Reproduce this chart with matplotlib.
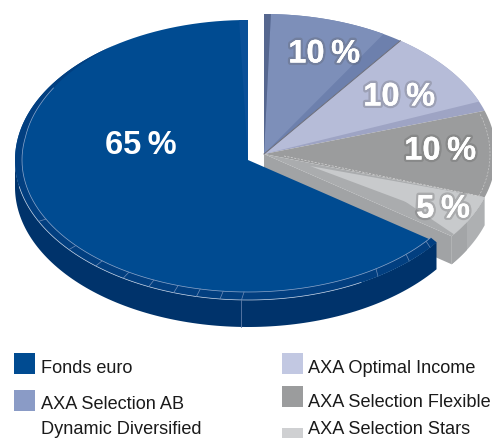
import numpy as np
import matplotlib
matplotlib.use("Agg")
import matplotlib.pyplot as plt
import matplotlib.patheffects as pe

# ── Data ──────────────────────────────────────────────────────────────────────
names = ["Fonds euro", "AXA Selection AB\nDynamic Diversified", "AXA Optimal Income",
         "AXA Selection Flexible", "AXA Selection Stars"]
values = [65, 10, 10, 10, 5]
labels = ["65\u2009%", "10\u2009%", "10\u2009%", "10\u2009%", "5\u2009%"]
colors = ["#004b91", "#7d8fb9", "#b6bcd8", "#9b9c9d", "#c8cacc"]
legend_colors = ["#004b91", "#8a9bc6", "#c2c8e2", "#9b9c9d", "#cfd0d2"]

plt.rcParams["font.family"] = ["Liberation Sans", "DejaVu Sans"]

fig = plt.figure(figsize=(4.92, 4.38), dpi=100)
ax = fig.add_axes([0, 0, 1, 1])
ax.set_xlim(0, 492)
ax.set_ylim(438, 0)
ax.axis("off")

# ── Geometry helpers ──────────────────────────────────────────────────────────
def rim(c, a, b, t0, t1, dy=0):
    t = np.radians(np.linspace(t0, t1, 120))
    return c[0] + a * np.cos(t), c[1] - b * np.sin(t) + dy

def sector(c, a, b, t0, t1, color, z, apex=None, dy=0):
    x, y = rim(c, a, b, t0, t1, dy)
    apex = c if apex is None else apex
    ax.fill(np.r_[apex[0], x], np.r_[apex[1] + dy, y], color=color, lw=0, zorder=z)

def wall(c, a, b, t0, t1, depth, color, z):
    x, y = rim(c, a, b, t0, t1)
    ax.fill(np.r_[x, x[::-1]], np.r_[y, y[::-1] + depth], color=color, lw=0, zorder=z)

# slice limits, clockwise from the top
shares = np.array(values) / sum(values) * 360
main_end = 90 + shares[0]
ends = 90 - np.cumsum(shares[1:])
starts = np.r_[90, ends[:-1]]

# ── Right hand group ──────────────────────────────────────────────────────────
c2, a2, b2 = (264, 154), 232, 140
depth2 = 28

# cut face under the last slice and the outer walls
xe, ye = rim(c2, a2, b2, ends[3], ends[3])
ax.fill([c2[0], xe[0], xe[0], c2[0]], [c2[1], ye[0], ye[0] + depth2, c2[1] + depth2],
        color="#a1a3a5", lw=0, zorder=1)
wall(c2, a2, b2, starts[3], ends[3], depth2, "#aeb0b2", 2)
wall(c2, a2, b2, ends[3] + 7, ends[3], depth2, "#a3a5a7", 2.1)

sector(c2, a2, b2, starts[0], ends[0], "#6d80ad", 3)
sector(c2, a2, b2, starts[0] - 1.7, ends[0] + 5, colors[1], 3.1)
sector(c2, a2, b2, starts[0], starts[0] - 1.7, "#56678f", 3.2)
sector(c2, a2, b2, starts[1], ends[1], "#9ea4c4", 3)
sector(c2, a2, b2, starts[1], ends[1] + 4, colors[2], 3.1)
sector(c2, a2, b2, starts[2], ends[2], colors[3], 3)
sector(c2, a2, b2, starts[3], ends[3], "#aaacae", 3)
sector(c2, a2, b2, starts[3], ends[3] + 6, colors[4], 3.1, apex=(c2[0] + 46, c2[1] + 12))
sector(c2, a2, b2, starts[3] - 1, ends[3] + 1, colors[4], 3.1, apex=(c2[0] + 130, c2[1] + 40))

# thin highlights
x1, y1 = rim(c2, a2 - 6, b2 - 4, starts[2] - 1, ends[2])
ax.plot(x1, y1, color="#c8c8c8", lw=0.5, ls=(0, (3, 2)), zorder=3.3)
x2, y2 = rim(c2, a2 - 6, b2 - 4, ends[2], ends[2])
ax.plot([c2[0] + 20, x2[0]], [c2[1] + 2, y2[0]], color="#d8d8d8", lw=0.5, ls=(0, (3, 2)), zorder=3.3)
xs, ys = rim(c2, a2, b2, ends[0], ends[0])
ax.plot([c2[0], xs[0]], [c2[1], ys[0]], color="#6a6c78", lw=0.7, zorder=3.4)

# ── Main slice ────────────────────────────────────────────────────────────────
c1, a1, b1 = (248, 160), 233, 140
depth1 = 27
tick_angles = [206.6, 220.4, 229.8, 238.2, 245.4, 252, 257.8, 263.7, 269, 304.5, 314.4, 322]

wall(c1, a1, b1, 180, main_end, depth1, "#00336b", 4)
sector(c1, a1, b1, 90, main_end, colors[0], 5)

# bevel band along the lower rim, fading out towards the top
t = np.linspace(125, main_end, 200)
fade = np.clip((t - 125) / 45, 0, 1)
xo = c1[0] + a1 * np.cos(np.radians(t))
yo = c1[1] - b1 * np.sin(np.radians(t))
xi = c1[0] + (a1 - 7 * fade) * np.cos(np.radians(t))
yi = c1[1] - (b1 - 8 * fade) * np.sin(np.radians(t))
ax.fill(np.r_[xo, xi[::-1]], np.r_[yo, yi[::-1]], color="#023f80", lw=0, zorder=5.1)
ax.plot(xi[fade > 0.5], yi[fade > 0.5], color="#8fa8cc", lw=0.5, zorder=5.3)
ax.plot(xo[(t > 190) & (t < 300)], yo[(t > 190) & (t < 300)], color="#c4d0e2", lw=0.5, zorder=5.3)
sector(c1, a1, b1, 90, 92.2, "#0a5098", 5.2)

for ta in tick_angles:
    xa, ya = rim(c1, a1 - 7, b1 - 8, ta, ta)
    xb, yb = rim(c1, a1, b1, ta - 0.6, ta - 0.6)
    ax.plot([xa[0], xb[0]], [ya[0], yb[0]], color="#6f8db8", lw=0.5, zorder=5.3)
xw, yw = rim(c1, a1, b1, 268.2, 268.2)
ax.plot([xw[0], xw[0]], [yw[0], yw[0] + depth1], color="#5f7ca8", lw=0.6, zorder=5.3)

# ── Percent labels ────────────────────────────────────────────────────────────
label_pos = [(141, 145), (324, 54), (399, 97), (440, 151), (443, 209)]
shadow = [pe.withStroke(linewidth=3.5, foreground="#55555544"), pe.Normal()]
for i, (lab, pos) in enumerate(zip(labels, label_pos)):
    ax.text(pos[0], pos[1], lab, color="white", fontsize=23.5, fontweight="bold",
            ha="center", va="center", zorder=8,
            path_effects=None if i == 0 else shadow)

# ── Legend ────────────────────────────────────────────────────────────────────
box_pos = [(14, 353), (14, 390), (282, 353), (282, 386), (282, 428)]
text_pos = [(41, 373), (41, 409), (308, 373), (308, 407), (308, 434)]
for name, col, bp, tp in zip(names, legend_colors, box_pos, text_pos):
    ax.fill([bp[0], bp[0] + 21, bp[0] + 21, bp[0]], [bp[1], bp[1], bp[1] + 21, bp[1] + 21],
            color=col, lw=0, zorder=6)
    first, *rest = name.split("\n")
    ax.text(tp[0], tp[1], first, fontsize=13.1, color="#1a1a1a", ha="left", va="baseline")
    if rest:
        ax.text(tp[0], tp[1] + 25, rest[0], fontsize=13.1, color="#1a1a1a", ha="left", va="baseline")

fig.savefig("out.png", dpi=100)
